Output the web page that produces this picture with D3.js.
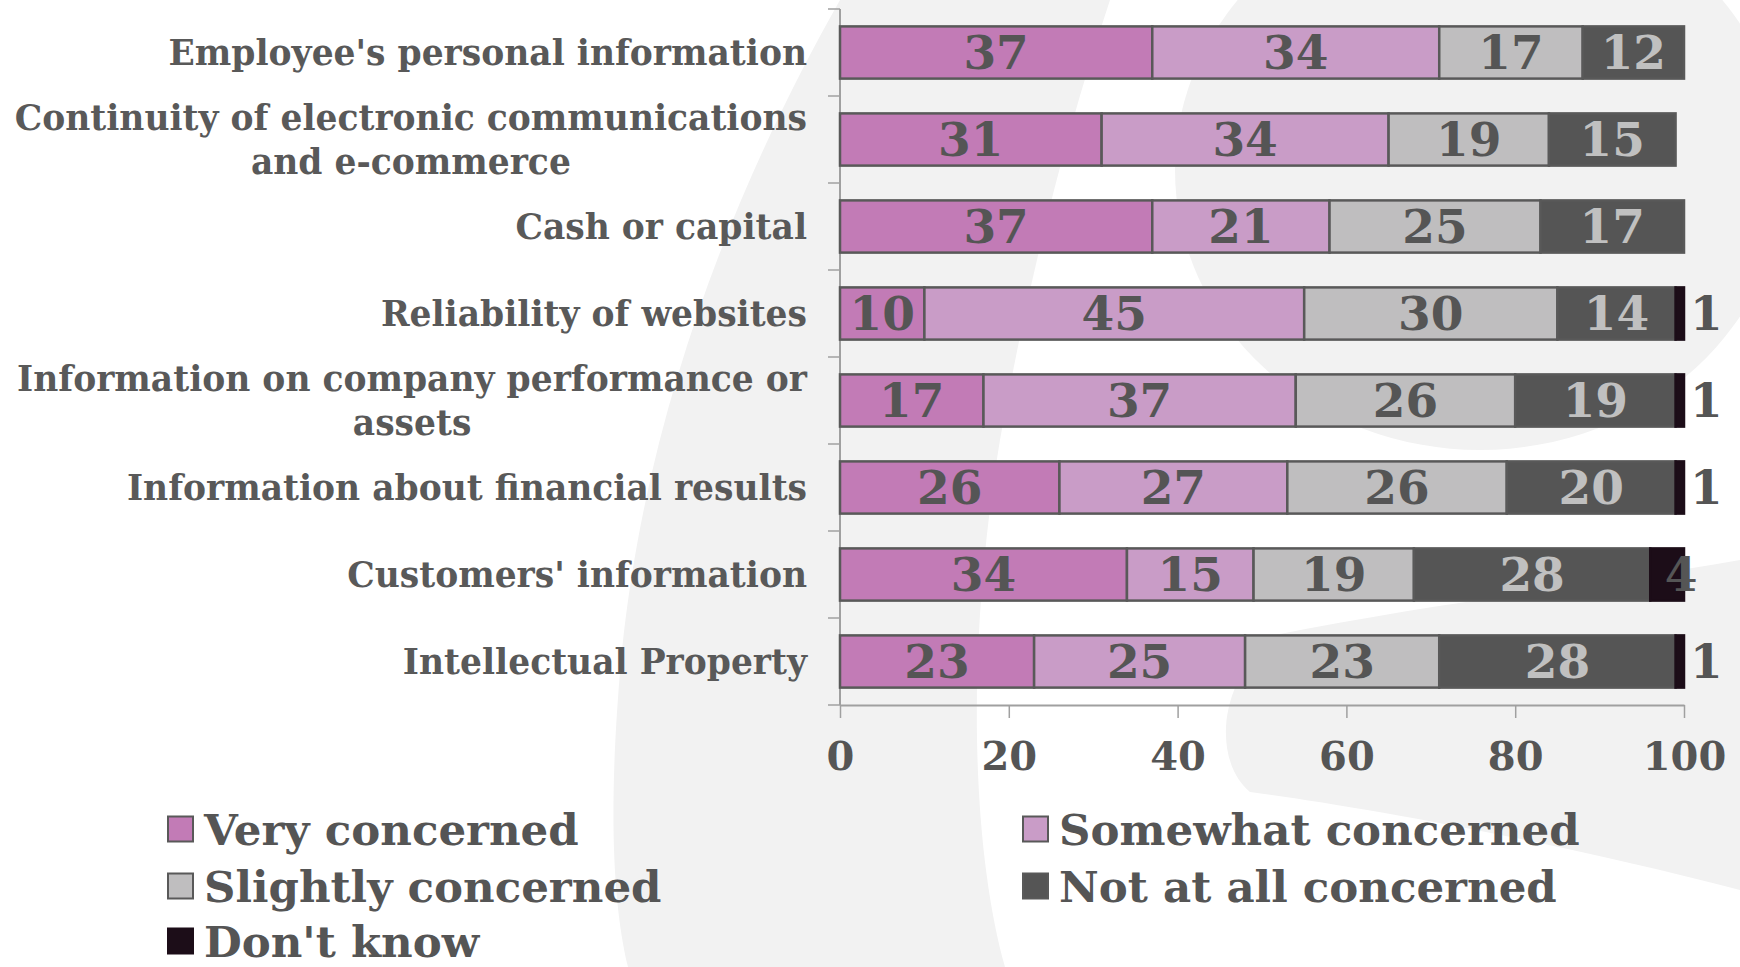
<!DOCTYPE html>
<html><head><meta charset="utf-8">
<script src="https://cdn.jsdelivr.net/npm/d3@7"></script>
<style>
html,body{margin:0;padding:0;background:#fff;overflow:hidden;}
svg{display:block;font-family:"DejaVu Serif",serif;font-weight:bold;}
</style>
</head><body>
<svg id="chart" width="1740" height="967"></svg>
<script>
// ---------- data ----------
const categories = [
  "Employee's personal information",
  "Continuity of electronic communications\nand e-commerce",
  "Cash or capital",
  "Reliability of websites",
  "Information on company performance or\nassets",
  "Information about financial results",
  "Customers' information",
  "Intellectual Property"
];
const seriesNames = ["Very concerned", "Somewhat concerned", "Slightly concerned", "Not at all concerned", "Don't know"];
const veryConcerned     = [37, 31, 37, 10, 17, 26, 34, 23];
const somewhatConcerned = [34, 34, 21, 45, 37, 27, 15, 25];
const slightlyConcerned = [17, 19, 25, 30, 26, 26, 19, 23];
const notAtAllConcerned = [12, 15, 17, 14, 19, 20, 28, 28];
const dontKnow          = [0, 0, 0, 1, 1, 1, 4, 1];
const xTickValues = [0, 20, 40, 60, 80, 100];

// ---------- styles ----------
const colors = ["#c27bb6", "#c99cc7", "#bfbebf", "#555555", "#1c0d18"];
const labelColors = ["#555555", "#555555", "#555555", "#c0c0c0", "#555555"];
const textColor = "#555555";
const outline = "#595959";

const svg = d3.select("#chart");

// background watermark (very light)
const bg = svg.append("g").attr("fill", "#f2f2f2");
bg.append("path").attr("d", "M 840 0 C 755 150 650 380 622 650 C 608 800 612 900 628 967 L 1005 967 C 972 850 965 650 1000 440 C 1025 300 1060 150 1110 0 Z");
bg.append("ellipse").attr("cx", 1480).attr("cy", 170).attr("rx", 305).attr("ry", 280);
bg.append("path").attr("d", "M 1275 635 C 1450 600 1600 585 1740 560 L 1740 890 C 1550 840 1350 805 1250 792 C 1212 760 1218 680 1275 635 Z");

const rows = categories.map((c, i) => ({
  cat: c,
  "Very concerned": veryConcerned[i],
  "Somewhat concerned": somewhatConcerned[i],
  "Slightly concerned": slightlyConcerned[i],
  "Not at all concerned": notAtAllConcerned[i],
  "Don't know": dontKnow[i]
}));

const x = d3.scaleLinear().domain([0, 100]).range([840, 1684]);
const y = d3.scaleBand().domain(categories).range([9, 705]).paddingInner(0.4).paddingOuter(0.2);

const stack = d3.stack().keys(seriesNames)(rows);

// axes
const axisColor = "#a0a0a0";
const gx = svg.append("g").attr("transform", `translate(0,${705})`)
  .call(d3.axisBottom(x).tickValues(xTickValues).tickSize(13).tickSizeOuter(0).tickPadding(21));
gx.select(".domain").attr("stroke", axisColor).attr("stroke-width", 2);
gx.selectAll(".tick line").attr("stroke", axisColor).attr("stroke-width", 1.5);
gx.selectAll(".tick text").attr("fill", textColor).attr("font-size", 40)
  .attr("font-family", '"DejaVu Serif", serif').attr("font-weight", "bold").attr("dy", "0.78em");

// y axis line with ticks at band boundaries
const yAxis = svg.append("g");
yAxis.append("line").attr("x1", x(0)).attr("x2", x(0)).attr("y1", y.range()[0]).attr("y2", y.range()[1])
  .attr("stroke", axisColor).attr("stroke-width", 2);
const step = y.step();
d3.range(categories.length + 1).forEach(i => {
  const yy = y.range()[0] + i * step;
  yAxis.append("line").attr("x1", x(0) - 12).attr("x2", x(0)).attr("y1", yy).attr("y2", yy)
    .attr("stroke", axisColor).attr("stroke-width", 1.5);
});

// category labels
const catG = svg.append("g").attr("fill", "#595959").attr("font-size", 34.5);
categories.forEach(c => {
  const lines = c.split("\n");
  const cy = y(c) + y.bandwidth() / 2;
  const widths = lines.map(l => {
    const tmp = catG.append("text").text(l);
    const w = tmp.node().getComputedTextLength();
    tmp.remove();
    return w;
  });
  const maxW = d3.max(widths);
  const right = 807;
  lines.forEach((l, j) => {
    const off = (j - (lines.length - 1) / 2) * 44;
    catG.append("text")
      .attr("text-anchor", lines.length > 1 ? "middle" : "end")
      .attr("x", lines.length > 1 ? right - maxW / 2 : right)
      .attr("y", cy + off)
      .attr("dy", "0.36em")
      .text(l);
  });
});

// bars
const barG = svg.append("g");
stack.forEach((s, si) => {
  const g = barG.append("g");
  g.selectAll("rect").data(s.filter(d => d[1] - d[0] > 0)).join("rect")
    .attr("x", d => x(d[0]))
    .attr("y", d => y(d.data.cat))
    .attr("width", d => x(d[1]) - x(d[0]))
    .attr("height", y.bandwidth())
    .attr("fill", colors[si])
    .attr("stroke", si === 4 ? colors[4] : outline)
    .attr("stroke-width", 2.5);
});

// value labels
const valG = svg.append("g").attr("font-size", 47);
stack.forEach((s, si) => {
  s.filter(d => d[1] - d[0] > 0).forEach(d => {
    const v = d[1] - d[0];
    const cy = y(d.data.cat) + y.bandwidth() / 2;
    let tx = x((d[0] + d[1]) / 2), anchor = "middle";
    if (si === 4 && v <= 2) { tx = x(d[1]) + 6; anchor = "start"; }
    else if (si === 4) { tx = x((d[0] + d[1]) / 2) + 14; }
    valG.append("text")
      .attr("x", tx).attr("y", cy).attr("dy", "0.36em")
      .attr("text-anchor", anchor)
      .attr("fill", labelColors[si])
      .text(v);
  });
});

// legend
const legendPos = [
  {x: 168, y: 829}, {x: 1023, y: 829},
  {x: 168, y: 886}, {x: 1023, y: 886},
  {x: 168, y: 941}
];
const legG = svg.append("g").attr("font-size", 43.5).attr("fill", textColor);
seriesNames.forEach((n, i) => {
  const p = legendPos[i];
  legG.append("rect").attr("x", p.x).attr("y", p.y - 12.5).attr("width", 25).attr("height", 25)
    .attr("fill", colors[i]).attr("stroke", i === 4 ? colors[4] : outline).attr("stroke-width", 2);
  legG.append("text").attr("x", p.x + 36).attr("y", p.y).attr("dy", "0.36em").text(n);
});
</script>
</body></html>
